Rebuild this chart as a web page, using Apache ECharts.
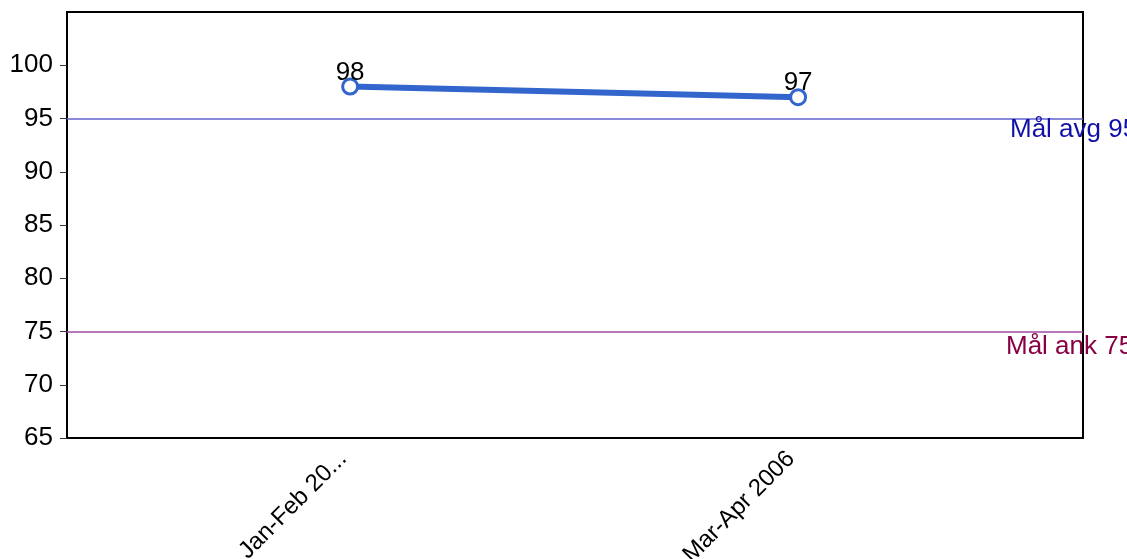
<!DOCTYPE html>
<html>
<head>
<meta charset="utf-8">
<script src="https://cdn.jsdelivr.net/npm/echarts@6/dist/echarts.min.js"></script>
<style>html,body{margin:0;padding:0;background:#fff;}#c{width:1127px;height:559px;}</style>
</head>
<body>
<div id="c"></div>
<script>
var categories = ['Jan-Feb 20...', 'Mar-Apr 2006'];
var values = [98, 97];
var yTicks = [65, 70, 75, 80, 85, 90, 95, 100];
var targetAvg = 95;
var targetAnk = 75;
var targetAvgLabel = 'Mål avg 95';
var targetAnkLabel = 'Mål ank 75';

var chart = echarts.init(document.getElementById('c'));
var FONT = 'Liberation Sans, Arial, sans-serif';
chart.setOption({
  animation: false,
  grid: { left: 67, right: 44, top: 12, bottom: 121, show: true, borderColor: '#000', borderWidth: 2, containLabel: false, outerBoundsMode: 'none' },
  xAxis: {
    type: 'value',
    min: -0.632,
    max: 1.636,
    splitLine: { show: false },
    axisLine: { show: true, onZero: false, lineStyle: { color: '#000', width: 2 } },
    axisTick: { show: false },
    axisLabel: {
      customValues: categories.map(function (c, i) { return i; }),
      formatter: function (v) { return categories[Math.round(v)]; },
      rotate: 45,
      margin: 10,
      padding: [0, 10, 0, 0],
      fontSize: 24,
      fontFamily: FONT,
      color: '#000'
    }
  },
  yAxis: {
    type: 'value',
    min: 65,
    max: 105,
    interval: 5,
    splitLine: { show: false },
    axisLine: { show: true, onZero: false, lineStyle: { color: '#000', width: 2 } },
    axisTick: { show: true, length: 7, customValues: yTicks, lineStyle: { color: '#333' } },
    axisLabel: {
      customValues: yTicks,
      fontSize: 26,
      fontFamily: FONT,
      color: '#000',
      margin: 14
    }
  },
  series: [{
    type: 'line',
    data: values.map(function (v, i) { return [i, v]; }),
    symbol: 'circle',
    symbolSize: 15,
    lineStyle: { color: '#3366cc', width: 6 },
    itemStyle: { color: '#fff', borderWidth: 3, borderColor: '#3366cc' },
    label: { show: true, position: 'top', distance: -8, fontSize: 26, fontFamily: FONT, color: '#000' },
    markLine: {
      silent: true,
      symbol: 'none',
      animation: false,
      data: [
        { yAxis: targetAvg, lineStyle: { color: '#6262d0', width: 1.5, type: 'solid' },
          label: { show: true, formatter: targetAvgLabel, position: 'end', distance: 0, offset: [-73, 11], color: '#1010a8', fontSize: 26, fontFamily: FONT } },
        { yAxis: targetAnk, lineStyle: { color: '#a04aa0', width: 1.5, type: 'solid' },
          label: { show: true, formatter: targetAnkLabel, position: 'end', distance: 0, offset: [-77, 15], color: '#880044', fontSize: 26, fontFamily: FONT } }
      ]
    }
  }]
});
</script>
</body>
</html>
